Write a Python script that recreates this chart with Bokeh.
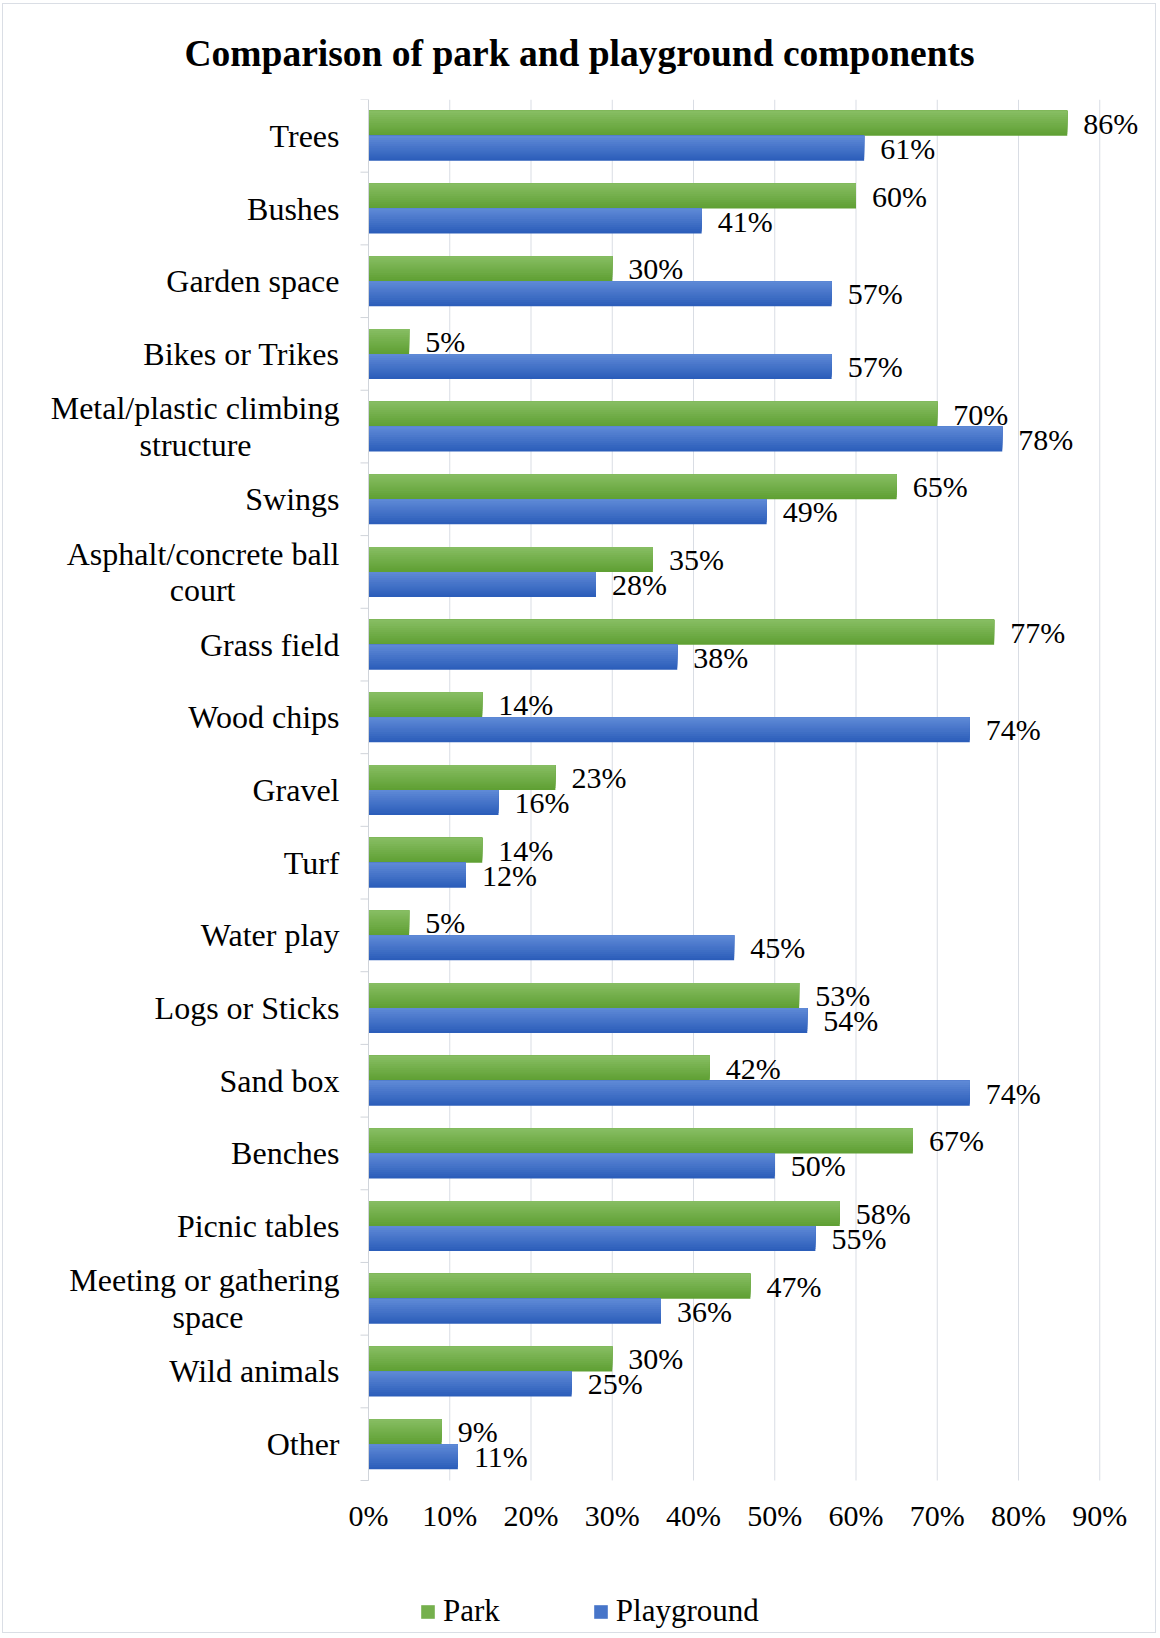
from bokeh.plotting import figure
from bokeh.models import (ColumnDataSource, Range1d, FixedTicker, PrintfTickFormatter,
                          LabelSet, Legend, LegendItem)
from bokeh.transform import dodge
from bokeh.core.properties import value
from bokeh.embed import file_html
from bokeh.resources import INLINE

# ---------------- data ----------------
categories = ["Trees", "Bushes", "Garden space", "Bikes or Trikes",
              "Metal/plastic climbing\nstructure", "Swings",
              "Asphalt/concrete ball\ncourt", "Grass field", "Wood chips", "Gravel",
              "Turf", "Water play", "Logs or Sticks", "Sand box", "Benches",
              "Picnic tables", "Meeting or gathering\nspace", "Wild animals", "Other"]
park = [86, 60, 30, 5, 70, 65, 35, 77, 14, 23, 14, 5, 53, 42, 67, 58, 47, 30, 9]
playground = [61, 41, 57, 57, 78, 49, 28, 38, 74, 16, 12, 45, 54, 74, 50, 55, 36, 25, 11]
x_ticks = [0, 10, 20, 30, 40, 50, 60, 70, 80, 90]
series_names = ["Park", "Playground"]

FONT = "Liberation Serif"
n = len(categories)
idx = list(range(n))

# Times/Liberation Serif advance widths (per 1000 em) used to centre 2-line labels
_W = {" ": 250, "A": 722, "M": 889, "a": 444, "b": 500, "c": 444, "d": 500, "e": 444,
      "f": 333, "g": 500, "h": 500, "i": 278, "k": 500, "l": 278, "m": 778, "n": 500,
      "o": 500, "p": 500, "r": 333, "s": 389, "t": 278, "u": 500, "y": 500, "/": 278}

def _tw(s):
    return sum(_W.get(ch, 500) for ch in s)

def centre_lines(label):
    lines = label.split("\n")
    if len(lines) == 1:
        return label
    ws = [_tw(l) for l in lines]
    wmax = max(ws)
    return "\n".join(l + "\u00a0" * int(round((wmax - w) / 2 / 250)) for l, w in zip(lines, ws))

src = ColumnDataSource(dict(
    y=idx, park=park, playground=playground,
    park_lbl=[f"{v}%" for v in park],
    play_lbl=[f"{v}%" for v in playground],
))

# geometry (pixels)
W, H = 1154, 1630
PX = 8.125                             # pixels per percentage point
PAD_L = 28                             # frame room left of the 0% line
TOP, RIGHT = 95, 9
LEFT = 365 - PAD_L
CAT_PX = 1381 / n                      # pixel height of one category band
frame_h = H - TOP
y_start = -0.5 + frame_h / CAT_PX      # extra room below categories for ticks + legend
x_start = -PAD_L / PX
x_end = x_start + (W - LEFT - RIGHT) / PX

p = figure(width=W, height=H, output_backend="svg", toolbar_location=None,
           x_range=Range1d(x_start, x_end), y_range=Range1d(y_start, -0.5),
           min_border_left=LEFT, min_border_right=RIGHT, min_border_top=TOP,
           min_border_bottom=0)
p.styles = {"border": "1px solid #dadee5", "margin-left": "2px", "margin-top": "3px"}
p.outline_line_color = None
p.background_fill_color = "white"
p.border_fill_color = "white"
p.xgrid.grid_line_color = None
p.ygrid.grid_line_color = None

# title
p.title.text = "Comparison of park and playground components"
p.title.text_font = FONT
p.title.text_font_size = "37.5px"
p.title.text_font_style = "bold"
p.title.text_color = "black"
p.title.align = "left"
p.title.vertical_align = "top"
p.title.offset = -184 + PAD_L
p.title.standoff = 48

# vertical gridlines, only over the category area
p.segment(x0=x_ticks, x1=x_ticks, y0=[-0.5] * len(x_ticks), y1=[n - 0.5] * len(x_ticks),
          line_color="#d9dde4", line_width=1)

BAR_H = 0.344
OFF = BAR_H / 2
NB = 12

def lerp(c1, c2, t):
    return "#%02x%02x%02x" % tuple(int(round(a + (b - a) * t)) for a, b in zip(c1, c2))

green_top, green_bot = (134, 189, 98), (96, 160, 52)
blue_top, blue_bot = (94, 137, 214), (44, 94, 186)

mid_renderers = {}
for name, field, sign, ctop, cbot in [("Park", "park", -1, green_top, green_bot),
                                      ("Playground", "playground", 1, blue_top, blue_bot)]:
    bar_top = sign * OFF - BAR_H / 2
    for k in range(NB):
        frac = (NB - k) / NB          # overlay covering top part of bar
        hh = BAR_H * frac
        col = lerp(cbot, ctop, k / (NB - 1))
        r = p.hbar(y=dodge("y", bar_top + hh / 2, range=p.y_range), left=0, right=field,
                   height=hh, source=src, fill_color=col, line_color=None)
        if k == NB // 2:
            mid_renderers[name] = r

# category axis line + boundary ticks (category area only)
AX_COL = "#d0d4da"
bounds = [k - 0.5 for k in range(n + 1)]
p.segment(x0=[0], x1=[0], y0=[-0.5], y1=[n - 0.5], line_color=AX_COL, line_width=1)
p.segment(x0=[-8 / PX] * len(bounds), x1=[0] * len(bounds), y0=bounds, y1=bounds,
          line_color=AX_COL, line_width=1)

# data labels
for field, lbl, sign in [("park", "park_lbl", -1), ("playground", "play_lbl", 1)]:
    ls = LabelSet(x=field, y=dodge("y", sign * OFF, range=p.y_range), text=lbl, source=src,
                  x_offset=16, text_baseline="middle", text_align="left",
                  text_font=value(FONT), text_font_size="30px", text_color="black")
    p.add_layout(ls)

# x axis, pinned to the bottom of the category area
p.xaxis.fixed_location = n - 0.5
p.xaxis.ticker = FixedTicker(ticks=x_ticks)
p.xaxis.formatter = PrintfTickFormatter(format="%d%%")
p.xaxis.axis_line_color = None
p.xaxis.major_tick_line_color = None
p.xaxis.minor_tick_line_color = None
p.xaxis.major_tick_out = 0
p.xaxis.major_tick_in = 0
p.xaxis.major_label_standoff = 18
p.xaxis.major_label_text_font = FONT
p.xaxis.major_label_text_font_size = "30px"
p.xaxis.major_label_text_color = "black"

# y axis (labels only)
p.yaxis.ticker = FixedTicker(ticks=idx)
p.yaxis.major_label_overrides = {i: centre_lines(c) for i, c in enumerate(categories)}
p.yaxis.major_tick_line_color = None
p.yaxis.minor_tick_line_color = None
p.yaxis.major_tick_out = 0
p.yaxis.major_tick_in = 0
p.yaxis.minor_tick_out = 0
p.yaxis.axis_line_color = None
p.yaxis.major_label_standoff = 1
p.yaxis.major_label_text_font = FONT
p.yaxis.major_label_text_font_size = "32px"
p.yaxis.major_label_text_line_height = 1.02
p.yaxis.major_label_text_color = "black"

# legend
legend = Legend(items=[LegendItem(label=series_names[0], renderers=[mid_renderers["Park"]]),
                       LegendItem(label=series_names[1], renderers=[mid_renderers["Playground"]])],
                orientation="horizontal", location=(51 + PAD_L, 5),
                label_text_font=FONT, label_text_font_size="31px", label_text_color="black",
                glyph_width=17, glyph_height=17, label_standoff=7, spacing=92,
                padding=0, margin=0, border_line_color=None, background_fill_alpha=0)
p.add_layout(legend, "center")

open("out.html", "w").write(file_html(p, INLINE))
